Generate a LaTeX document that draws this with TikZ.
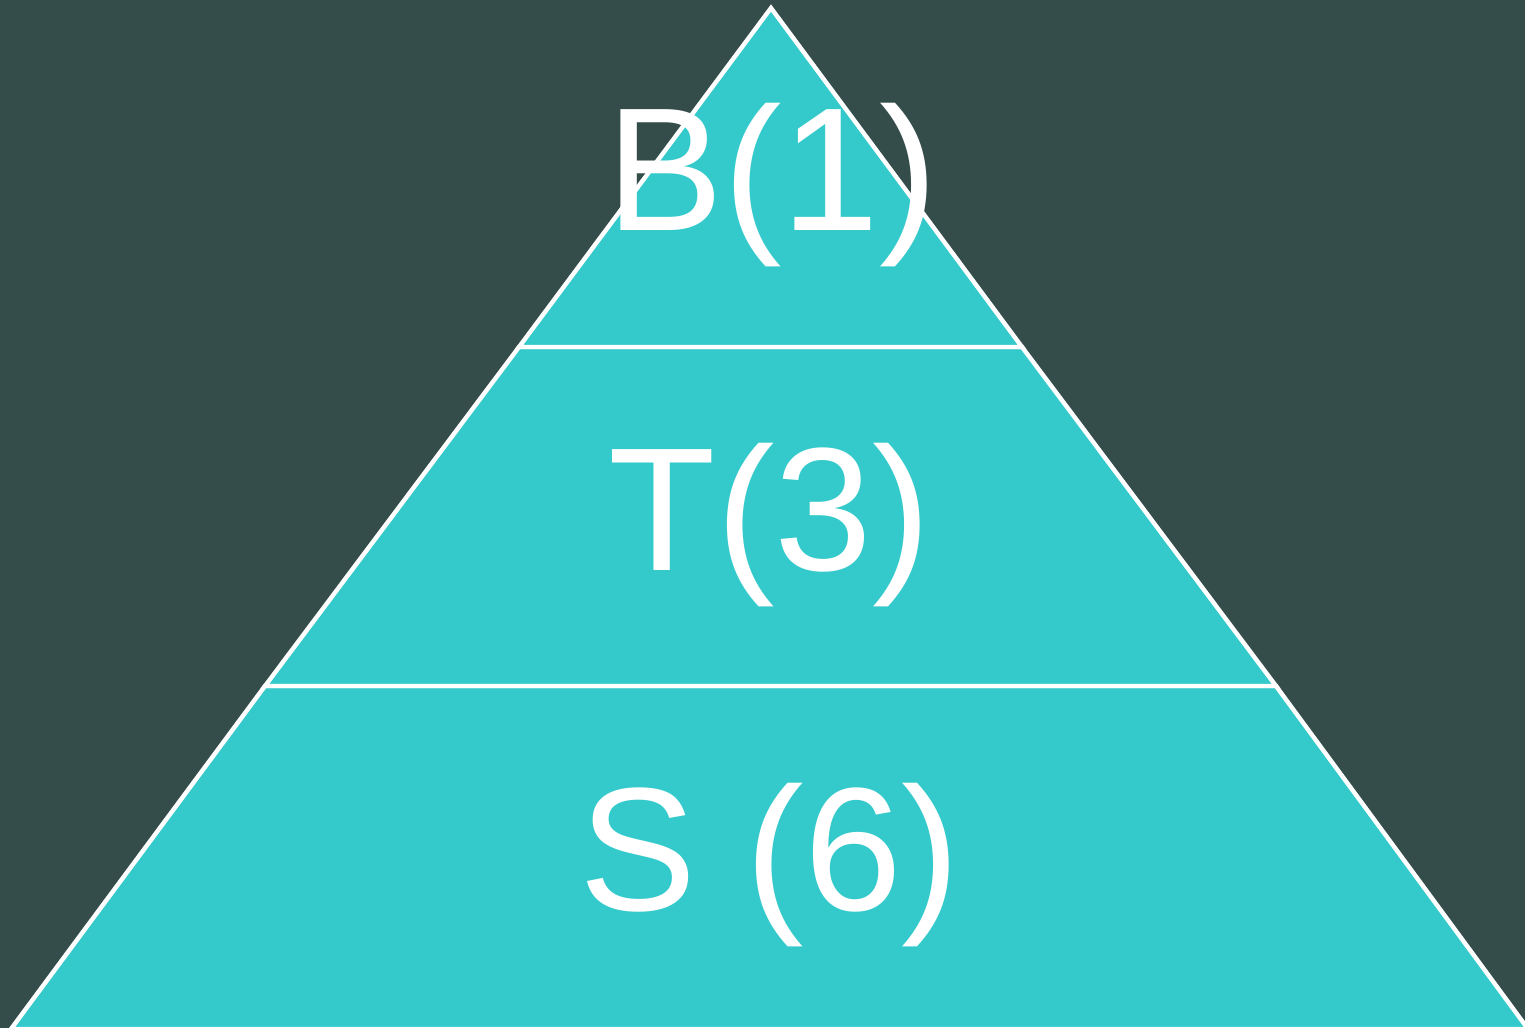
\documentclass[tikz,border=0pt]{standalone}
\usepackage{fontspec}
\setmainfont{Liberation Sans}
\usetikzlibrary{calc}
\definecolor{bgdark}{RGB}{52,77,74}
\definecolor{tealfill}{RGB}{52,202,204}

\begin{document}
\begin{tikzpicture}[
  x=0.02cm, y=-0.02cm,
  layer/.style={
    fill=tealfill, draw=white, line width=2.5pt, line join=miter
  },
  tier/.style={
    text=white, anchor=base, inner sep=0pt,
    font=\fontsize{100}{120}\selectfont
  }
]

%% Hintergrund
\fill[bgdark] (0,0) rectangle (1525,1028);
\useasboundingbox (0,0) rectangle (1525,1028);

%% Eckpunkte der Pyramide
\coordinate (apex) at (771,8);
\coordinate (topL) at (519,347);
\coordinate (topR) at (1022,347);
\coordinate (midL) at (265,686);
\coordinate (midR) at (1276,686);
\coordinate (baseL) at (11,1029);
\coordinate (baseR) at (1528,1029);

%% Schichten
\draw[layer] (baseL) -- (midL) -- (midR) -- (baseR) -- cycle;
\draw[layer] (midL) -- (topL) -- (topR) -- (midR) -- cycle;
\draw[layer] (topL) -- (apex) -- (topR) -- cycle;

%% Beschriftungen
\node[tier] (top) at (772,230) {B(1)};
\node[tier] (mid) at (770,570) {T(3)};
\node[tier] (base) at (770,910) {S (6)};

\end{tikzpicture}
\end{document}
